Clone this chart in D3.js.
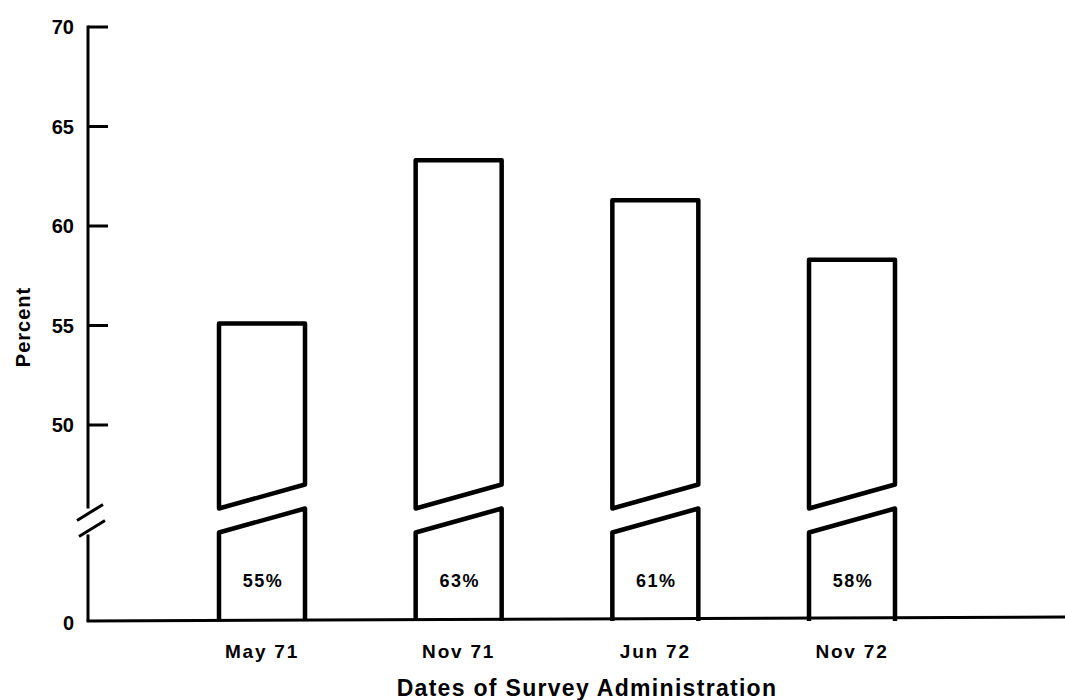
<!DOCTYPE html>
<html>
<head>
<meta charset="utf-8">
<script src="https://cdn.jsdelivr.net/npm/d3@7"></script>
<style>
  html, body { margin: 0; padding: 0; background: #fff; }
  svg { display: block; }
  text { font-family: "Liberation Sans", Arial, Helvetica, sans-serif; font-weight: bold; fill: #000; }
</style>
</head>
<body>
<svg id="chart" width="1065" height="700"></svg>
<script>
// ---- data ----
const categories = ["May 71", "Nov 71", "Jun 72", "Nov 72"];
const values = [55.1, 63.3, 61.3, 58.3];          // bar tops as drawn
const valueLabels = ["55%", "63%", "61%", "58%"];
const upperTicks = [50, 55, 60, 65, 70];
const lowerTicks = [0];
const breakValue = 45;
const xTitle = "Dates of Survey Administration";
const yTitle = "Percent";

// ---- layout ----
const W = 1065, H = 700;
const axisX = 88;
const svg = d3.select("#chart");

// piecewise y scale with compressed lower section below the break
const y = d3.scaleLinear()
  .domain([0, breakValue, 70])
  .range([621, 524.5, 27]);

const x = d3.scalePoint()
  .domain(categories)
  .range([262, 852]);
const barW = 86;

const ink = "#000";
const y45 = y(breakValue);

// ---- y axis (broken) ----
svg.append("line")
  .attr("x1", axisX).attr("x2", axisX)
  .attr("y1", y(70) - 1.5).attr("y2", y45 - 16)
  .attr("stroke", ink).attr("stroke-width", 3);
svg.append("line")
  .attr("x1", axisX).attr("x2", axisX)
  .attr("y1", y45 + 10).attr("y2", y(0))
  .attr("stroke", ink).attr("stroke-width", 3);

// break marks
[[-11, -4, 15, -20], [-9, 12, 17, -4]].forEach(d => {
  svg.append("line")
    .attr("x1", axisX + d[0]).attr("y1", y45 + d[1])
    .attr("x2", axisX + d[2]).attr("y2", y45 + d[3])
    .attr("stroke", ink).attr("stroke-width", 3);
});

// ticks (inward) + labels
upperTicks.forEach(t => {
  svg.append("line")
    .attr("x1", axisX).attr("x2", axisX + 20)
    .attr("y1", y(t)).attr("y2", y(t))
    .attr("stroke", ink).attr("stroke-width", 3);
  svg.append("text")
    .attr("x", 74).attr("y", y(t))
    .attr("dy", "0.35em")
    .attr("text-anchor", "end")
    .style("font-size", "20px")
    .text(t);
});
lowerTicks.forEach(t => {
  svg.append("text")
    .attr("x", 74).attr("y", y(t) + 2)
    .attr("dy", "0.35em")
    .attr("text-anchor", "end")
    .style("font-size", "20px")
    .text(t);
});

// baseline
svg.append("line")
  .attr("x1", axisX - 1.5).attr("x2", W)
  .attr("y1", y(0)).attr("y2", y(0) - 4)
  .attr("stroke", ink).attr("stroke-width", 3);

// ---- bars ----
categories.forEach((c, i) => {
  const cx = x(c);
  const x0 = cx - barW / 2, x1 = cx + barW / 2;
  const top = y(values[i]);
  // upper part
  const up = d3.path();
  up.moveTo(x0, y45 - 16);
  up.lineTo(x0, top);
  up.lineTo(x1, top);
  up.lineTo(x1, y45 - 40);
  up.closePath();
  svg.append("path").attr("d", up.toString())
    .attr("fill", "none").attr("stroke", ink)
    .attr("stroke-width", 4.5).attr("stroke-linejoin", "round");
  // lower part
  const lo = d3.path();
  lo.moveTo(x0, y(0));
  lo.lineTo(x0, y45 + 8);
  lo.lineTo(x1, y45 - 16);
  lo.lineTo(x1, y(0));
  svg.append("path").attr("d", lo.toString())
    .attr("fill", "none").attr("stroke", ink)
    .attr("stroke-width", 4.5).attr("stroke-linejoin", "round");
  // value label
  svg.append("text")
    .attr("x", cx + 1).attr("y", 587)
    .attr("text-anchor", "middle")
    .style("font-size", "18px")
    .style("letter-spacing", "1.5px")
    .text(valueLabels[i]);
  // category label
  svg.append("text")
    .attr("x", cx).attr("y", 658)
    .attr("text-anchor", "middle")
    .style("font-size", "19px")
    .style("letter-spacing", "1.8px")
    .text(c);
});

// ---- titles ----
svg.append("text")
  .attr("x", 587).attr("y", 696)
  .attr("text-anchor", "middle")
  .style("font-size", "23px")
  .style("letter-spacing", "1.3px")
  .text(xTitle);

svg.append("text")
  .attr("transform", "translate(30,327) rotate(-90)")
  .attr("text-anchor", "middle")
  .style("font-size", "20px")
  .style("letter-spacing", "1px")
  .text(yTitle);
</script>
</body>
</html>
